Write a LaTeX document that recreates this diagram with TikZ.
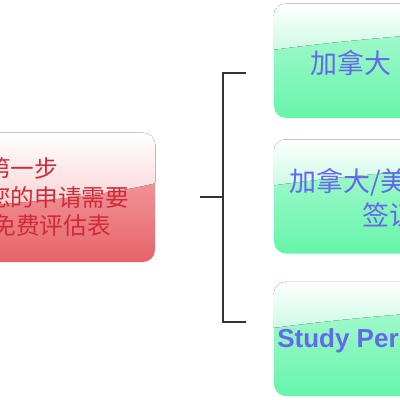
\documentclass[tikz,border=0pt]{standalone}
\usepackage{fontspec}
\setmainfont{Liberation Sans}
\newfontfamily\cjk{Noto Sans CJK SC}
\usetikzlibrary{positioning,calc}
\definecolor{Mint}{HTML}{B4FAD6}
\definecolor{Leaf}{HTML}{66F5AA}
\definecolor{MintGloss}{HTML}{CCFBE4}
\definecolor{Blush}{HTML}{F6B0B4}
\definecolor{Coral}{HTML}{E6646A}
\definecolor{BlushGloss}{HTML}{F9CDD0}
\definecolor{StepRed}{HTML}{D02A35}
\definecolor{Periwinkle}{HTML}{6666EE}
\definecolor{Ink}{HTML}{333333}

\begin{document}
\begin{tikzpicture}[x=0.25mm, y=-0.25mm,
    box/.style={rectangle, rounded corners=3mm, inner sep=0pt, draw=none},
    redbox/.style={box, top color=Blush, bottom color=Coral, minimum width=78.75mm, minimum height=32.25mm},
    greenbox/.style={box, top color=Mint, bottom color=Leaf, minimum width=57.5mm, minimum height=28.5mm},
    steptxt/.style={inner sep=0pt, align=left, text=StepRed, font=\cjk\fontsize{16.8}{20.6}\selectfont},
    greentxt/.style={inner sep=0pt, align=center, text=Periwinkle, font=\cjk\fontsize{19.2}{24.2}\selectfont},
    bracket/.style={draw=Ink, line width=1.1pt}]
  \useasboundingbox (0,0) rectangle (400,400);
  \clip (0,0) rectangle (400,400);

  \node[redbox] (step) at (-2.5,197.5) {};
  \node[greenbox] (canada) at (389,61) {};
  \node[greenbox, below=5.25mm of canada] (visa) {};
  \node[greenbox, below=7mm of visa] (study) {};

  % glossy upper parts
  \begin{scope}
    \clip[rounded corners=3mm] (step.south west) rectangle (step.north east);
    \fill[top color=white, bottom color=BlushGloss] (step.north west) -- ($(step.north west)+(0,82)$)
      .. controls (60,203) and (120,192) .. (160,182) -- (step.north east) -- cycle;
  \end{scope}
  \foreach \b in {canada, visa, study} {
    \begin{scope}
      \clip[rounded corners=3mm] (\b.south west) rectangle (\b.north east);
      \fill[top color=white, bottom color=MintGloss] (\b.north west) -- ($(\b.north west)+(0,46)$)
        .. controls ($(\b.north west)+(60,38)$) and ($(\b.north west)+(140,30)$) .. ($(\b.north east)+(0,26)$)
        -- (\b.north east) -- cycle;
    \end{scope}
  }

  \node[steptxt, anchor=west] (steplbl) at (-13,197) {第一步\\您的申请需要\\\hspace{1.35mm}免费评估表};
  \node[greentxt, anchor=west] (canadalbl) at (310,63) {加拿大};
  \node[greentxt] (visalbl) at (389,198) {加拿大/美国旅游\\签证};
  \node[greentxt, anchor=west, font=\bfseries\fontsize{18.5}{22}\selectfont] (studylbl) at (277,341) {Study Permit};

  % bracket
  \coordinate (brtop) at (246,73);
  \coordinate (brbot) at (246,322);
  \coordinate (brfork) at (200,197);
  \draw[bracket] (brtop) -- ++(-23,0) |- (brbot);
  \draw[bracket] (brfork) -- ++(23,0);
\end{tikzpicture}
\end{document}
